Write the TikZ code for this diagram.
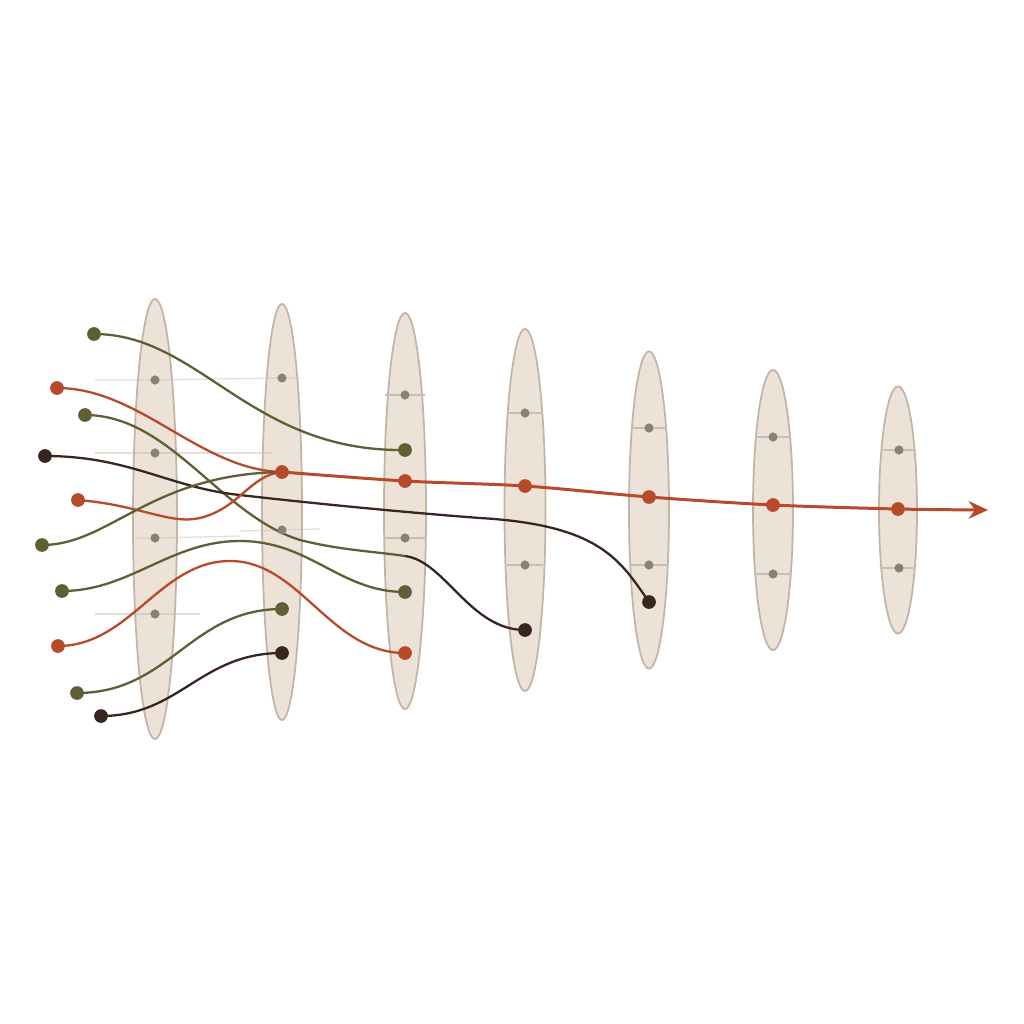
\documentclass[tikz,border=0pt]{standalone}
\usetikzlibrary{shapes.geometric,arrows.meta}
\pgfdeclarelayer{paper}
\pgfdeclarelayer{bg}
\pgfsetlayers{paper,bg,main}
\definecolor{rust}{RGB}{183,74,42}
\definecolor{olivec}{RGB}{96,94,52}
\definecolor{darkc}{RGB}{56,38,30}
\definecolor{grayc}{RGB}{138,128,118}
\definecolor{lens}{RGB}{236,226,216}
\definecolor{lensedge}{RGB}{196,180,166}
\definecolor{tickc}{RGB}{200,190,181}
\tikzset{
  lensbox/.style={ellipse, draw=lensedge, fill=lens, line width=0.5pt, inner sep=0pt},
  gdot/.style={circle, fill=grayc, inner sep=0pt, minimum size=2.6pt},
  bdot/.style={circle, fill=#1, inner sep=0pt, minimum size=3.9pt},
  wire/.style={line width=0.65pt, draw=#1},
  tickline/.style={draw=tickc, line width=0.35pt},
  faint/.style={draw=tickc, line width=0.35pt, opacity=0.5},
  mainline/.style={draw=rust, line width=0.85pt}
}
\begin{document}
\begin{tikzpicture}[x=0.01cm,y=-0.01cm]
\useasboundingbox (0,0) rectangle (1024,1024);
\begin{pgfonlayer}{paper}
\fill[white] (0,0) rectangle (1024,1024);
\end{pgfonlayer}
% lenses
\begin{pgfonlayer}{bg}
\node[lensbox, minimum width=0.44cm, minimum height=4.40cm] (L1) at (155,519) {};
\node[lensbox, minimum width=0.40cm, minimum height=4.16cm] (L2) at (282,512) {};
\node[lensbox, minimum width=0.42cm, minimum height=3.96cm] (L3) at (405,511) {};
\node[lensbox, minimum width=0.41cm, minimum height=3.62cm] (L4) at (525,510) {};
\node[lensbox, minimum width=0.40cm, minimum height=3.17cm] (L5) at (649,510) {};
\node[lensbox, minimum width=0.40cm, minimum height=2.80cm] (L6) at (773,510) {};
\node[lensbox, minimum width=0.38cm, minimum height=2.47cm] (L7) at (898,510) {};
\end{pgfonlayer}
% coordinates
\coordinate (s1) at (94,334);
\coordinate (s2) at (57,388);
\coordinate (s3) at (85,415);
\coordinate (s4) at (45,456);
\coordinate (s5) at (78,500);
\coordinate (s6) at (42,545);
\coordinate (s7) at (62,591);
\coordinate (s8) at (58,646);
\coordinate (s9) at (77,693);
\coordinate (s10) at (101,716);
\coordinate (g1a) at (155,380);
\coordinate (g1b) at (155,453);
\coordinate (g1c) at (155,538);
\coordinate (g1d) at (155,614);
\coordinate (g2a) at (282,378);
\coordinate (g2b) at (282,530);
\coordinate (g3a) at (405,395);
\coordinate (g3b) at (405,538);
\coordinate (g4a) at (525,413);
\coordinate (g4b) at (525,565);
\coordinate (g5a) at (649,428);
\coordinate (g5b) at (649,565);
\coordinate (g6a) at (773,437);
\coordinate (g6b) at (773,574);
\coordinate (g7a) at (899,450);
\coordinate (g7b) at (899,568);
\coordinate (r2) at (282,472);
\coordinate (r3) at (405,481);
\coordinate (r4) at (525,486);
\coordinate (r5) at (649,497);
\coordinate (r6) at (773,505);
\coordinate (r7) at (898,509);
\coordinate (tip) at (988,510);
\coordinate (o2) at (282,609);
\coordinate (k2) at (282,653);
\coordinate (o3a) at (405,450);
\coordinate (o3b) at (405,592);
\coordinate (r3b) at (405,653);
\coordinate (k4) at (525,630);
\coordinate (k5) at (649,602);
\coordinate (m3) at (405,556);
% tick lines
\begin{pgfonlayer}{bg}
\draw[faint] (95,380) -- (g1a) -- (g2a) -- (300,378);
\draw[faint] (95,453) -- (g1b) -- (272,453);
\draw[faint] (135,538) -- (g1c) -- (240,536);
\draw[faint] (240,531) -- (g2b) -- (320,529);
\draw[faint] (95,614) -- (g1d) -- (200,614);
\draw[tickline] (385,395) -- (g3a) -- (425,395);
\draw[tickline] (385,538) -- (g3b) -- (425,538);
\draw[tickline] (507,413) -- (g4a) -- (543,413);
\draw[tickline] (507,565) -- (g4b) -- (543,565);
\draw[tickline] (631,428) -- (g5a) -- (667,428);
\draw[tickline] (631,565) -- (g5b) -- (667,565);
\draw[tickline] (755,437) -- (g6a) -- (791,437);
\draw[tickline] (755,574) -- (g6b) -- (791,574);
\draw[tickline] (881,450) -- (g7a) -- (915,450);
\draw[tickline] (881,568) -- (g7b) -- (915,568);
\end{pgfonlayer}
% wires
\draw[wire=olivec] (s1) .. controls (200,334) and (250,452) .. (o3a);
\draw[wire=rust] (s2) .. controls (140,388) and (200,470) .. (r2);
\draw[wire=olivec] (s3) .. controls (170,415) and (220,515) .. (300,540) .. controls (340,550) and (370,551) .. (m3);
\draw[wire=darkc] (m3) .. controls (445,561) and (470,630) .. (k4);
\draw[wire=darkc] (s4) .. controls (130,456) and (170,488) .. (240,495) .. controls (300,502) and (400,512) .. (480,518) .. controls (600,525) and (620,560) .. (k5);
\draw[wire=rust] (s5) .. controls (140,505) and (170,525) .. (200,518) .. controls (240,508) and (250,475) .. (r2);
\draw[wire=olivec] (s6) .. controls (110,545) and (150,474) .. (r2);
\draw[wire=olivec] (s7) .. controls (130,591) and (170,541) .. (240,541) .. controls (310,541) and (340,592) .. (o3b);
\draw[wire=rust] (s8) .. controls (130,646) and (160,561) .. (230,561) .. controls (300,561) and (330,653) .. (r3b);
\draw[wire=olivec] (s9) .. controls (170,693) and (190,609) .. (o2);
\draw[wire=darkc] (s10) .. controls (180,716) and (200,653) .. (k2);
\draw[mainline, -{Stealth[length=5.5pt,width=5pt]}] plot[smooth, tension=0.5] coordinates {(r2) (r3) (r4) (r5) (r6) (r7) (tip)};
% dots
\foreach \p in {g1a,g1b,g1c,g1d,g2a,g2b,g3a,g3b,g4a,g4b,g5a,g5b,g6a,g6b,g7a,g7b}
  \node[gdot] (d-\p) at (\p) {};
\foreach \p in {s1,s3,s6,s7,s9,o2,o3a,o3b}
  \node[bdot=olivec] (d-\p) at (\p) {};
\foreach \p in {s2,s5,s8,r2,r3,r4,r5,r6,r7,r3b}
  \node[bdot=rust] (d-\p) at (\p) {};
\foreach \p in {s4,s10,k2,k4,k5}
  \node[bdot=darkc] (d-\p) at (\p) {};
\end{tikzpicture}
\end{document}
